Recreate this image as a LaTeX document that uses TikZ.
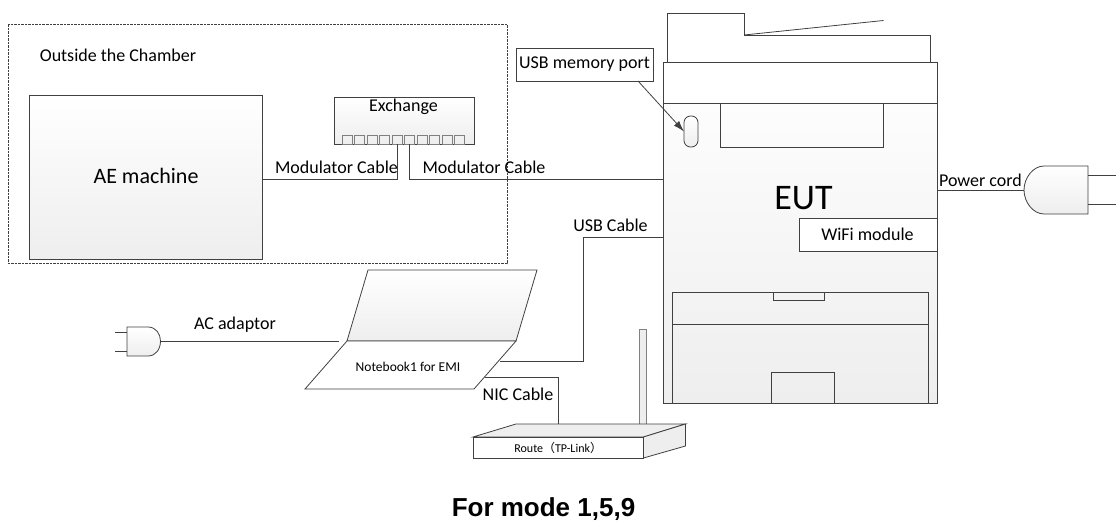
\documentclass[tikz,border=0pt]{standalone}
\usepackage{fontspec}
\setmainfont{Carlito}
\setsansfont{Liberation Sans}
\newfontfamily\cjkfont{Noto Sans CJK JP}
\usepackage{tikz}
\usetikzlibrary{arrows.meta}
\definecolor{linegray}{HTML}{404040}
\definecolor{fadegray}{HTML}{EEEEEE}
\newcommand{\txt}[1]{\fontsize{#1}{#1}\selectfont}
\tikzset{
	wire/.style={draw=linegray, line width=0.8pt},
	box/.style={wire, inner sep=0pt, outer sep=0pt},
	fade/.style={box, top color=white, bottom color=fadegray},
	label/.style={inner sep=0pt, text=black, font=\txt{18}},
}

\begin{document}
\begin{tikzpicture}[x=1pt, y=-1pt]
	\useasboundingbox (0,0) rectangle (1120,527);

	\node (ae) at (146,177) [fade, minimum width=233pt, minimum height=164pt] {};
	\node (exchange) at (404,120.5) [fade, minimum width=140pt, minimum height=47pt] {};
	\foreach \i in {1,...,10}
		\node (port\i) at (334.5+12.5*\i,139.5) [box, draw=gray, minimum width=10pt, minimum height=9pt] {};

	\node (eut) at (800,232.5) [fade, minimum width=274pt, minimum height=341pt] {};
	\node (euthead) at (800,82.5) [box, fill=white, minimum width=274pt, minimum height=41pt] {};
	\draw[wire] (667.5,62) -- (667.5,13.5) -- (744,13.5) -- (744,35) -- (930,35) -- (930,62);
	\draw[wire] (744,35) -- (883.5,20.5);
	\node (panel) at (801.5,125) [box, minimum width=163pt, minimum height=44pt] {};
	\node (usbslot) at (691,131.5) [fade, rounded corners=6.5pt, minimum width=14pt, minimum height=31pt] {};
	\node (usbnote) at (584.5,64.5) [box, fill=white, minimum width=137pt, minimum height=33pt] {};
	\node (wifi) at (868,234.5) [box, fill=white, minimum width=138pt, minimum height=33pt] {};
	\node (tray) at (800,347.5) [box, minimum width=256pt, minimum height=111pt] {};
	\node (traytab) at (798.5,296) [box, minimum width=51pt, minimum height=8pt] {};
	\node (trayfoot) at (802.5,387.5) [box, minimum width=63pt, minimum height=31pt] {};
	\draw[wire] (672,324) -- (928,324);

	\coordinate (aeout) at (262.5,179);
	\coordinate (eutmod) at (663,179);
	\coordinate (eutusb) at (663,237);
	\coordinate (nbusb) at (500,361);
	\coordinate (nbnic) at (485,377);
	\coordinate (nbac) at (339,341);
	\coordinate (eutpow) at (937,190);
	\coordinate (routenic) at (558.5,424);
	\coordinate (usbfoot) at (638,81);

	\draw[wire] (aeout) -| (port5.south);
	\draw[wire] (port6.south) |- (eutmod);
	\draw[wire] (eutusb) -| (583.5,361) -- (nbusb);
	\draw[wire] (nbnic) -| (routenic);
	\draw[wire, -{Latex[length=11pt,width=7pt]}] (usbfoot) -- (usbslot.west);

	\draw[wire, dash pattern=on 2.5pt off 1pt, line width=0.6pt] (8.5,24.5) rectangle (507,263.5);

	\draw[fade] (368,270) -- (537,270) -- (516,341) -- (347,341) -- cycle;
	\draw[wire, fill=white] (347,341) -- (516,341) -- (474,389) -- (305,389) -- cycle;
	\coordinate (plugac) at (160.5,341);
	\draw[fade] (127,327) -- (148,327) .. controls (156,327) and (160.5,334) .. (plugac) .. controls (160.5,349) and (156,356) .. (148,356) -- (127,356) -- cycle;
	\draw[wire] (plugac) -- (nbac);
	\draw[wire] (127,332) -- (114.5,332)
		  (127,351) -- (114.5,351);

	\coordinate (plugpow) at (1024,190);
	\draw[fade] (1088,166) -- (1044,166) .. controls (1033,166) and (1024,178) .. (plugpow) .. controls (1024,202) and (1033,214) .. (1044,214) -- (1088,214) -- cycle;
	\draw[wire] (eutpow) -- (plugpow);
	\draw[wire] (1088,175) -- (1116,175)
		  (1088,204) -- (1116,204);

	\node (antenna) at (642.7,376.5) [box, draw=gray, fill=fadegray, minimum width=7.5pt, minimum height=95pt] {};
	\draw[wire, fill=fadegray] (473,437) -- (516,424) -- (685.5,424) -- (643.5,437) -- cycle;
	\draw[wire, fill=fadegray] (643.5,437) -- (685.5,424) -- (685.5,446) -- (643.5,458) -- cycle;
	\node (route) at (558.2,447.5) [box, fill=white, minimum width=170.5pt, minimum height=21pt] {};

	\node (outlabel) at (118,55) [label] {Outside the Chamber};
	\node (aelabel) at (146,176) [label, font=\txt{22}] {AE machine};
	\node (exlabel) at (403.5,107) [label] {Exchange};
	\node (modleft) at (336.5,167) [label] {Modulator Cable};
	\node (modright) at (484,167) [label] {Modulator Cable};
	\node (usblabel) at (610.5,225) [label] {USB Cable};
	\node (niclabel) at (518,394) [label] {NIC Cable};
	\node (aclabel) at (235,325) [label] {AC adaptor};
	\node (powlabel) at (980.5,180) [label] {Power cord};
	\node (eutlabel) at (803.5,198) [label, font=\txt{36}] {EUT};
	\node (usbnotetext) at (usbnote) [label] {USB memory port};
	\node (wifilabel) at (867.5,234) [label] {WiFi module};
	\node (nblabel) at (408,367) [label, font=\txt{13.5}] {Notebook1 for EMI};
	\node (routelabel) at (route) [label, font=\txt{12}] {Route{\cjkfont （}TP-Link{\cjkfont ）}};
	\node (modelabel) at (543.5,509) [label, font=\txt{26}\sffamily\bfseries] {For mode 1,5,9};
\end{tikzpicture}
\end{document}
